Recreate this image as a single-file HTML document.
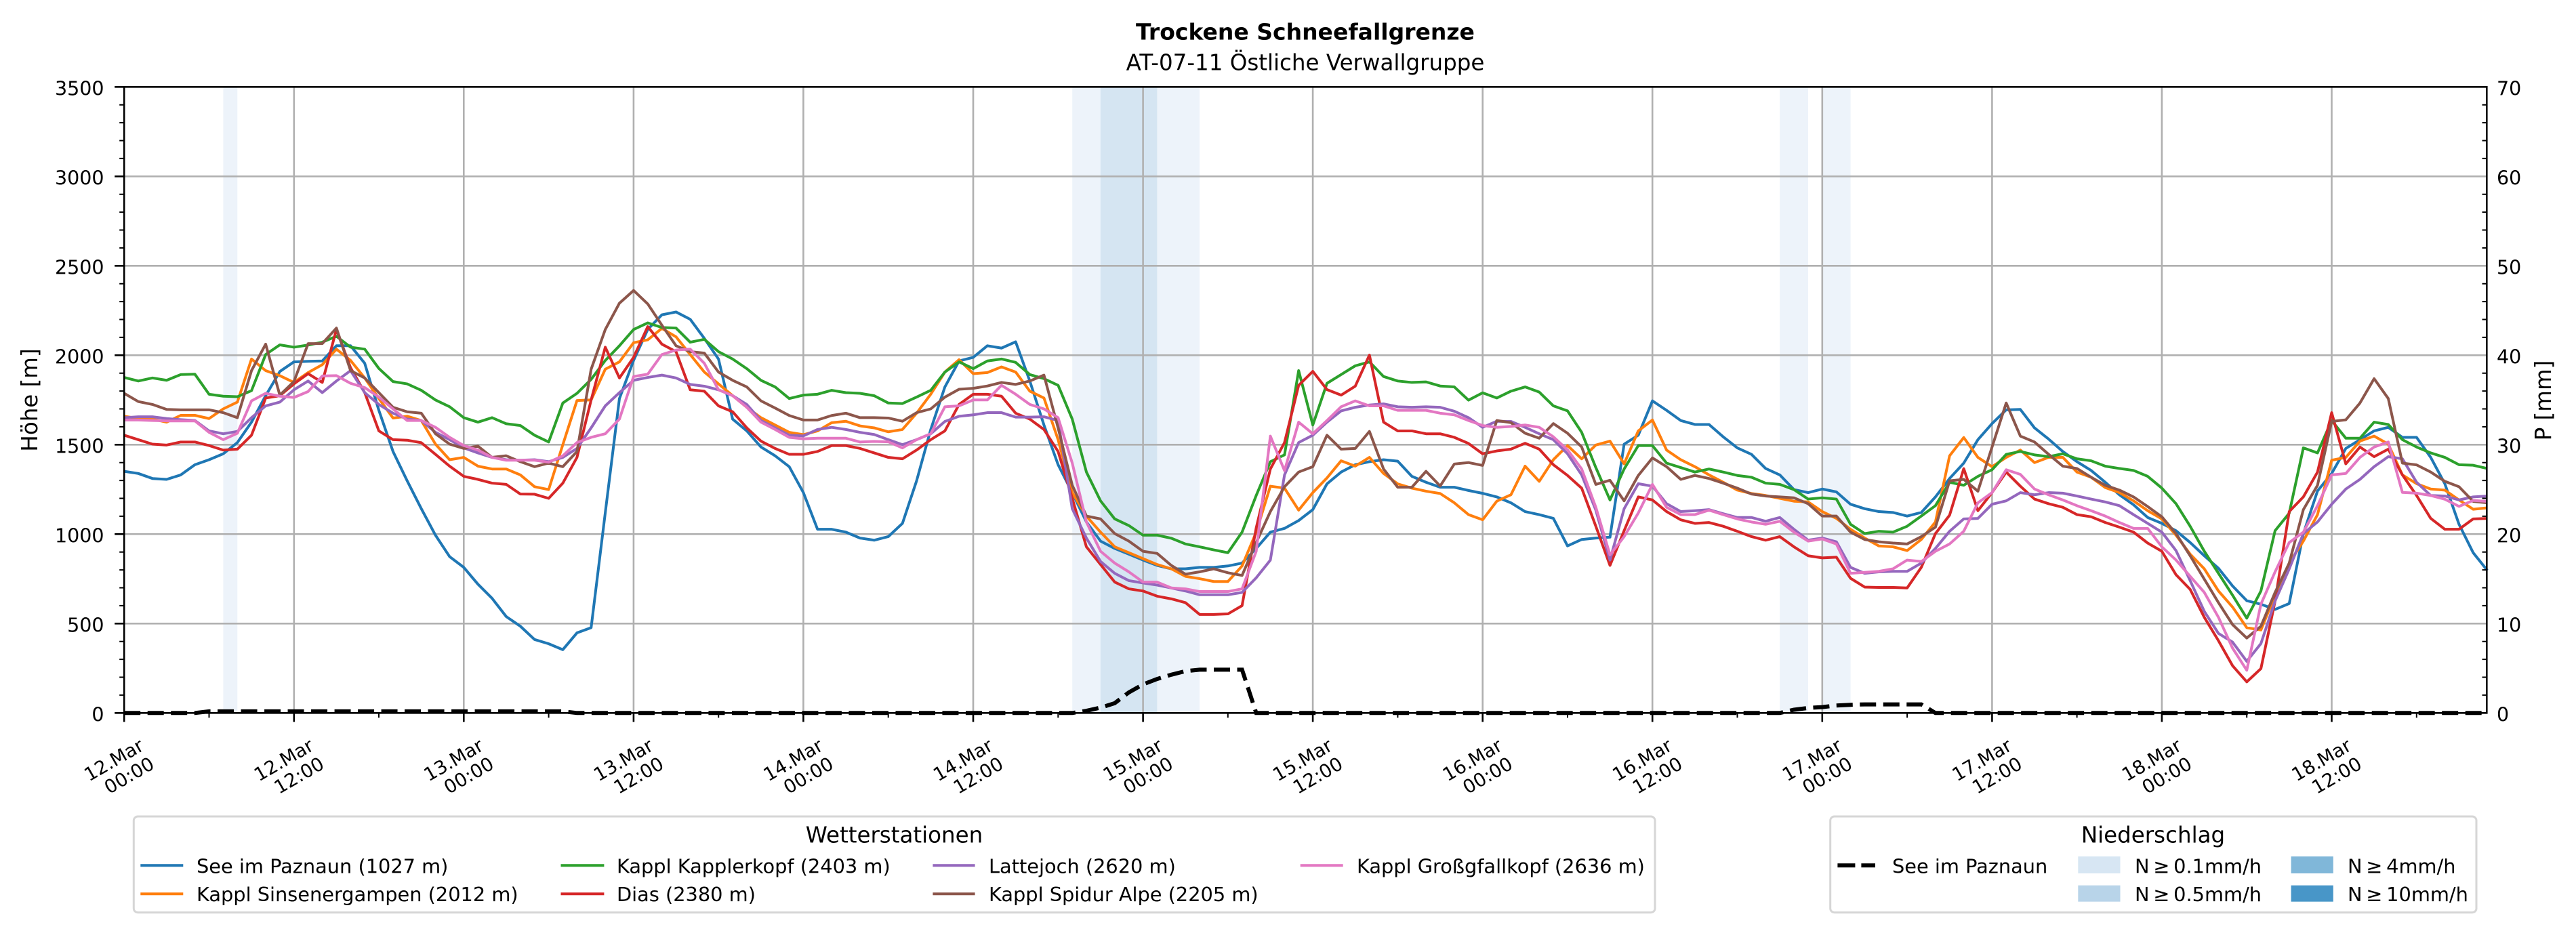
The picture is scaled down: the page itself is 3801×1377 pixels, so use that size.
<!DOCTYPE html>
<html><head><meta charset="utf-8"><style>
html,body{margin:0;padding:0;background:#fff;}
svg{display:block;}
text{font-family:"DejaVu Sans","Liberation Sans",sans-serif;fill:#000;}
</style></head><body>
<svg width="3801" height="1377" viewBox="0 0 3801 1377" xmlns="http://www.w3.org/2000/svg">
<rect x="0" y="0" width="3801" height="1377" fill="#fff"/>
<!-- precipitation bands -->
<rect x="329.4" y="128.3" width="20.9" height="924" fill="#edf3fa"/>
<rect x="1582.2" y="128.3" width="41.8" height="924" fill="#edf3fa"/>
<rect x="1623.9" y="128.3" width="83.6" height="924" fill="#d5e5f2"/>
<rect x="1707.4" y="128.3" width="62.7" height="924" fill="#edf3fa"/>
<rect x="2626.2" y="128.3" width="41.8" height="924" fill="#edf3fa"/>
<rect x="2688.8" y="128.3" width="41.8" height="924" fill="#edf3fa"/>
<!-- grid -->
<path d="M433.8 128.3V1052.3M684.3 128.3V1052.3M934.9 128.3V1052.3M1185.4 128.3V1052.3M1436.0 128.3V1052.3M1686.6 128.3V1052.3M1937.1 128.3V1052.3M2187.7 128.3V1052.3M2438.2 128.3V1052.3M2688.8 128.3V1052.3M2939.4 128.3V1052.3M3189.9 128.3V1052.3M3440.5 128.3V1052.3M183.2 920.3H3669.3M183.2 788.3H3669.3M183.2 656.3H3669.3M183.2 524.3H3669.3M183.2 392.3H3669.3M183.2 260.3H3669.3" stroke="#b0b0b0" stroke-width="2.6" fill="none"/>
<!-- series -->
<g transform="translate(183.2 1052.3) scale(20.88 -0.264)" fill="none" stroke-width="4" stroke-linejoin="round">
<polyline vector-effect="non-scaling-stroke" stroke="#1f77b4" points="0,1351 1,1339 2,1311 3,1306 4,1331 5,1388 6,1416 7,1449 8,1512 9,1626 10,1774 11,1909 12,1963 13,1966 14,1968 15,2053 16,2053 17,1955 18,1692 19,1462 20,1298 21,1142 22,994 23,874 24,814 25,720 26,641 27,539 28,485 29,411 30,387 31,354 32,448 33,477 34,1120 35,1758 36,1971 37,2144 38,2226 39,2242 40,2201 41,2094 42,1979 43,1643 44,1577 45,1487 46,1438 47,1377 48,1232 49,1027 50,1027 51,1011 52,978 53,966 54,986 55,1060 56,1298 57,1585 58,1823 59,1968 60,1988 61,2053 62,2040 63,2075 64,1856 65,1610 66,1388 67,1232 68,1068 69,961 70,920 71,888 72,855 73,825 74,806 75,806 76,814 77,814 78,822 79,838 80,920 81,1011 82,1032 83,1076 84,1137 85,1281 86,1347 87,1388 88,1405 89,1416 90,1408 91,1323 92,1290 93,1262 94,1262 95,1244 96,1228 97,1208 98,1175 99,1126 100,1109 101,1088 102,934 103,970 104,978 105,983 106,1503 107,1553 108,1745 109,1692 110,1635 111,1613 112,1613 113,1544 114,1482 115,1446 116,1367 117,1331 118,1249 119,1232 120,1252 121,1236 122,1167 123,1142 124,1126 125,1121 126,1101 127,1121 128,1208 129,1311 130,1397 131,1528 132,1618 133,1695 134,1697 135,1594 136,1531 137,1462 138,1405 139,1356 140,1290 141,1220 142,1164 143,1093 144,1060 145,1019 146,953 147,879 148,809 149,710 150,628 151,608 152,579 153,612 154,1003 155,1241 156,1339 157,1479 158,1528 159,1577 160,1597 161,1541 162,1541 163,1429 164,1281 165,1055 166,896 167,797"/>
<polyline vector-effect="non-scaling-stroke" stroke="#ff7f0e" points="0,1659 1,1646 2,1643 3,1626 4,1664 5,1664 6,1646 7,1700 8,1738 9,1979 10,1914 11,1886 12,1848 13,1903 14,1947 15,2034 16,1971 17,1873 18,1758 19,1649 20,1659 21,1635 22,1503 23,1416 24,1429 25,1380 26,1364 27,1364 28,1331 29,1265 30,1249 31,1500 32,1747 33,1750 34,1922 35,1963 36,2070 37,2086 38,2150 39,2103 40,2004 41,1906 42,1840 43,1774 44,1709 45,1651 46,1610 47,1569 48,1556 49,1577 50,1623 51,1631 52,1605 53,1594 54,1572 55,1585 56,1676 57,1782 58,1906 59,1975 60,1897 61,1903 62,1935 63,1906 64,1799 65,1761 66,1528 67,1232 68,1101 69,1011 70,929 71,896 72,863 73,830 74,806 75,764 76,751 77,735 78,735 79,822 80,1011 81,1268 82,1257 83,1134 84,1232 85,1314 86,1410 87,1380 88,1429 89,1339 90,1281 91,1257 92,1240 93,1227 94,1175 95,1109 96,1080 97,1184 98,1220 99,1380 100,1295 101,1416 102,1495 103,1421 104,1498 105,1520 106,1393 107,1577 108,1638 109,1470 110,1416 111,1377 112,1331 113,1290 114,1246 115,1227 116,1216 117,1200 118,1184 119,1180 120,1126 121,1088 122,1027 123,978 124,934 125,929 126,908 127,970 128,1068 129,1438 130,1540 131,1429 132,1377 133,1429 134,1470 135,1400 136,1429 137,1429 138,1347 139,1318 140,1260 141,1232 142,1186 143,1131 144,1085 145,994 146,888 147,806 148,682 149,592 150,477 151,464 152,658 153,838 154,961 155,1109 156,1413 157,1429 158,1520 159,1548 160,1503 161,1331 162,1282 163,1252 164,1246 165,1191 166,1139 167,1147"/>
<polyline vector-effect="non-scaling-stroke" stroke="#2ca02c" points="0,1876 1,1856 2,1873 3,1860 4,1892 5,1894 6,1782 7,1771 8,1768 9,1802 10,2004 11,2058 12,2045 13,2057 14,2073 15,2106 16,2045 17,2034 18,1926 19,1853 20,1840 21,1804 22,1750 23,1712 24,1651 25,1626 26,1651 27,1617 28,1607 29,1553 30,1515 31,1733 32,1787 33,1865 34,1971 35,2053 36,2144 37,2181 38,2155 39,2152 40,2073 41,2089 42,2020 43,1979 44,1925 45,1860 46,1823 47,1758 48,1777 49,1782 50,1804 51,1791 52,1787 53,1774 54,1733 55,1730 56,1766 57,1804 58,1906 59,1963 60,1925 61,1968 62,1979 63,1960 64,1892 65,1869 66,1832 67,1643 68,1347 69,1186 70,1085 71,1048 72,994 73,994 74,977 75,945 76,929 77,912 78,896 79,1011 80,1216 81,1405 82,1443 83,1914 84,1610 85,1843 86,1892 87,1941 88,1963 89,1881 90,1856 91,1848 92,1851 93,1828 94,1823 95,1749 96,1790 97,1761 98,1799 99,1823 100,1794 101,1717 102,1689 103,1569 104,1372 105,1191 106,1364 107,1495 108,1495 109,1397 110,1372 111,1347 112,1364 113,1347 114,1328 115,1318 116,1285 117,1278 118,1249 119,1196 120,1203 121,1196 122,1055 123,1003 124,1016 125,1011 126,1044 127,1101 128,1159 129,1290 130,1273 131,1323 132,1360 133,1446 134,1462 135,1443 136,1433 137,1449 138,1421 139,1410 140,1380 141,1367 142,1356 143,1323 144,1257 145,1170 146,1044 147,904 148,781 149,658 150,530 151,682 152,1019 153,1117 154,1482 155,1454 156,1635 157,1536 158,1536 159,1626 160,1613 161,1528 162,1487 163,1454 164,1429 165,1388 166,1385 167,1367"/>
<polyline vector-effect="non-scaling-stroke" stroke="#d62728" points="0,1553 1,1528 2,1503 3,1498 4,1515 5,1515 6,1495 7,1470 8,1475 9,1553 10,1761 11,1774 12,1840 13,1897 14,1848 15,2144 16,1930 17,1791 18,1577 19,1528 20,1525 21,1511 22,1446 23,1380 24,1323 25,1306 26,1285 27,1278 28,1224 29,1223 30,1200 31,1285 32,1429 33,1750 34,2045 35,1873 36,1988 37,2160 38,2062 39,2020 40,1807 41,1799 42,1717 43,1684 44,1594 45,1520 46,1479 47,1446 48,1446 49,1462 50,1495 51,1495 52,1479 53,1454 54,1429 55,1421 56,1470 57,1528 58,1577 59,1725 60,1782 61,1782 62,1771 63,1676 64,1643 65,1585 66,1462 67,1200 68,929 69,830 70,732 71,694 72,682 73,653 74,638 75,617 76,551 77,551 78,554 79,600 80,1035 81,1364 82,1512 83,1832 84,1910 85,1808 86,1777 87,1827 88,2001 89,1626 90,1577 91,1577 92,1561 93,1561 94,1541 95,1507 96,1449 97,1465 98,1475 99,1508 100,1475 101,1388 102,1328 103,1257 104,1044 105,825 106,1019 107,1208 108,1191 109,1126 110,1080 111,1060 112,1065 113,1044 114,1016 115,986 116,966 117,986 118,929 119,879 120,867 121,871 122,753 123,704 124,702 125,702 126,699 127,814 128,1003 129,1106 130,1366 131,1131 132,1232 133,1347 134,1268 135,1196 136,1170 137,1150 138,1109 139,1097 140,1065 141,1039 142,1011 143,950 144,904 145,773 146,691 147,535 148,404 149,264 150,174 151,248 152,625 153,1126 154,1208 155,1347 156,1679 157,1393 158,1487 159,1433 160,1475 161,1331 162,1216 163,1088 164,1027 165,1027 166,1085 167,1088"/>
<polyline vector-effect="non-scaling-stroke" stroke="#9467bd" points="0,1651 1,1656 2,1656 3,1646 4,1640 5,1635 6,1577 7,1561 8,1574 9,1651 10,1717 11,1738 12,1807 13,1856 14,1791 15,1856 16,1914 17,1791 18,1725 19,1676 20,1643 21,1635 22,1569 23,1528 24,1482 25,1454 26,1429 27,1416 28,1413 29,1416 30,1405 31,1429 32,1479 33,1594 34,1717 35,1791 36,1860 37,1876 38,1889 39,1873 40,1837 41,1827 42,1807 43,1774 44,1725 45,1635 46,1594 47,1553 48,1549 49,1585 50,1597 51,1585 52,1569 53,1557 54,1528 55,1500 56,1528 57,1561 58,1630 59,1659 60,1667 61,1679 62,1679 63,1654 64,1654 65,1656 66,1635 67,1142 68,978 69,847 70,781 71,740 72,727 73,715 74,699 75,682 76,661 77,661 78,661 79,674 80,756 81,855 82,1331 83,1512 84,1553 85,1626 86,1689 87,1709 88,1722 89,1728 90,1712 91,1709 92,1712 93,1709 94,1687 95,1651 96,1597 97,1631 98,1630 99,1597 100,1561 101,1528 102,1449 103,1331 104,1134 105,855 106,1142 107,1282 108,1268 109,1170 110,1126 111,1131 112,1137 113,1114 114,1093 115,1093 116,1072 117,1093 118,1027 119,966 120,978 121,957 122,814 123,781 124,789 125,792 126,792 127,838 128,920 129,1016 130,1085 131,1088 132,1167 133,1186 134,1232 135,1220 136,1232 137,1229 138,1213 139,1196 140,1180 141,1159 142,1109 143,1060 144,1011 145,908 146,740 147,568 148,445 149,396 150,289 151,388 152,626 153,806 154,1003 155,1068 156,1167 157,1252 158,1306 159,1377 160,1433 161,1421 162,1290 163,1216 164,1213 165,1191 166,1208 167,1213"/>
<polyline vector-effect="non-scaling-stroke" stroke="#8c564b" points="0,1787 1,1741 2,1725 3,1697 4,1695 5,1695 6,1695 7,1679 8,1651 9,1914 10,2062 11,1777 12,1853 13,2065 14,2065 15,2152 16,1914 17,1873 18,1791 19,1709 20,1684 21,1676 22,1561 23,1503 24,1479 25,1492 26,1429 27,1438 28,1405 29,1377 30,1397 31,1377 32,1462 33,1922 34,2144 35,2291 36,2362 37,2287 38,2168 39,2053 40,2020 41,2012 42,1906 43,1860 44,1823 45,1745 46,1705 47,1663 48,1638 49,1638 50,1663 51,1676 52,1651 53,1651 54,1649 55,1631 56,1679 57,1700 58,1766 59,1810 60,1815 61,1828 62,1848 63,1837 64,1856 65,1889 66,1594 67,1273 68,1101 69,1085 70,1003 71,961 72,904 73,892 74,825 75,776 76,789 77,806 78,784 79,769 80,953 81,1126 82,1265 83,1347 84,1377 85,1553 86,1475 87,1479 88,1574 89,1364 90,1262 91,1262 92,1351 93,1269 94,1392 95,1400 96,1384 97,1635 98,1623 99,1564 100,1536 101,1618 102,1564 103,1487 104,1278 105,1301 106,1186 107,1328 108,1426 109,1377 110,1306 111,1328 112,1311 113,1285 114,1257 115,1224 116,1213 117,1208 118,1203 119,1170 120,1101 121,1101 122,1011 123,970 124,957 125,950 126,945 127,986 128,1039 129,1298 130,1306 131,1240 132,1487 133,1733 134,1548 135,1515 136,1446 137,1380 138,1367 139,1318 140,1273 141,1246 142,1208 143,1154 144,1097 145,1003 146,879 147,748 148,617 149,494 150,419 151,485 152,674 153,838 154,1137 155,1273 156,1630 157,1639 158,1733 159,1869 160,1758 161,1397 162,1387 163,1347 164,1295 165,1265 166,1183 167,1175"/>
<polyline vector-effect="non-scaling-stroke" stroke="#e377c2" points="0,1638 1,1638 2,1635 3,1633 4,1633 5,1633 6,1569 7,1528 8,1564 9,1745 10,1787 11,1771 12,1764 13,1797 14,1884 15,1886 16,1843 17,1819 18,1766 19,1700 20,1635 21,1635 22,1597 23,1541 24,1495 25,1470 26,1429 27,1413 28,1413 29,1413 30,1402 31,1438 32,1512 33,1541 34,1561 35,1643 36,1881 37,1894 38,2004 39,2029 40,2034 41,1955 42,1807 43,1774 44,1709 45,1626 46,1585 47,1541 48,1533 49,1536 50,1536 51,1536 52,1515 53,1518 54,1516 55,1482 56,1528 57,1561 58,1712 59,1717 60,1750 61,1750 62,1832 63,1782 64,1725 65,1700 66,1651 67,1397 68,1068 69,904 70,838 71,789 72,732 73,732 74,699 75,694 76,679 77,679 78,679 79,694 80,904 81,1548 82,1355 83,1626 84,1561 85,1635 86,1712 87,1745 88,1717 89,1717 90,1692 91,1692 92,1692 93,1676 94,1667 95,1635 96,1607 97,1597 98,1602 99,1610 100,1597 101,1544 102,1471 103,1364 104,1150 105,884 106,986 107,1118 108,1278 109,1150 110,1109 111,1109 112,1134 113,1109 114,1085 115,1068 116,1055 117,1072 118,1011 119,961 120,973 121,945 122,781 123,786 124,792 125,806 126,855 127,847 128,904 129,945 130,1016 131,1175 132,1232 133,1360 134,1334 135,1252 136,1220 137,1191 138,1159 139,1131 140,1101 141,1065 142,1032 143,1032 144,929 145,855 146,764 147,674 148,535 149,362 150,239 151,608 152,789 153,953 154,1011 155,1159 156,1331 157,1339 158,1429 159,1487 160,1515 161,1233 162,1229 163,1216 164,1195 165,1155 166,1188 167,1183"/>
</g>
<!-- precipitation dashed line -->
<polyline fill="none" stroke="#000" stroke-width="6" stroke-dasharray="24 10.5" points="183.2,1052.3 287.6,1052.3 308.5,1049.9 830.5,1049.9 851.4,1052.3 1582.2,1052.3 1603.0,1049.1 1623.9,1044.4 1644.8,1037.8 1665.7,1021.9 1686.6,1010.1 1707.4,1002.1 1728.3,995.8 1749.2,990.5 1770.1,988.4 1832.7,988.4 1853.6,1052.3 2626.2,1052.3 2647.0,1047.5 2667.9,1044.9 2688.8,1043.6 2709.7,1041.2 2730.6,1040.2 2751.4,1039.6 2835.0,1039.6 2855.8,1052.3 3670.2,1052.3"/>
<!-- ticks -->
<path d="M169.2 1052.3H183.2M169.2 920.3H183.2M169.2 788.3H183.2M169.2 656.3H183.2M169.2 524.3H183.2M169.2 392.3H183.2M169.2 260.3H183.2M169.2 128.3H183.2" stroke="#000" stroke-width="2.6"/>
<path d="M176.2 1025.9H183.2M176.2 999.5H183.2M176.2 973.1H183.2M176.2 946.7H183.2M176.2 893.9H183.2M176.2 867.5H183.2M176.2 841.1H183.2M176.2 814.7H183.2M176.2 761.9H183.2M176.2 735.5H183.2M176.2 709.1H183.2M176.2 682.7H183.2M176.2 629.9H183.2M176.2 603.5H183.2M176.2 577.1H183.2M176.2 550.7H183.2M176.2 497.9H183.2M176.2 471.5H183.2M176.2 445.1H183.2M176.2 418.7H183.2M176.2 365.9H183.2M176.2 339.5H183.2M176.2 313.1H183.2M176.2 286.7H183.2M176.2 233.9H183.2M176.2 207.5H183.2M176.2 181.1H183.2M176.2 154.7H183.2" stroke="#000" stroke-width="2"/>
<path d="M3662.5 1025.9H3669.3M3662.5 999.5H3669.3M3662.5 973.1H3669.3M3662.5 946.7H3669.3M3662.5 893.9H3669.3M3662.5 867.5H3669.3M3662.5 841.1H3669.3M3662.5 814.7H3669.3M3662.5 761.9H3669.3M3662.5 735.5H3669.3M3662.5 709.1H3669.3M3662.5 682.7H3669.3M3662.5 629.9H3669.3M3662.5 603.5H3669.3M3662.5 577.1H3669.3M3662.5 550.7H3669.3M3662.5 497.9H3669.3M3662.5 471.5H3669.3M3662.5 445.1H3669.3M3662.5 418.7H3669.3M3662.5 365.9H3669.3M3662.5 339.5H3669.3M3662.5 313.1H3669.3M3662.5 286.7H3669.3M3662.5 233.9H3669.3M3662.5 207.5H3669.3M3662.5 181.1H3669.3M3662.5 154.7H3669.3" stroke="#000" stroke-width="2"/>
<path d="M183.2 1052.3V1065.5M433.8 1052.3V1065.5M684.3 1052.3V1065.5M934.9 1052.3V1065.5M1185.4 1052.3V1065.5M1436.0 1052.3V1065.5M1686.6 1052.3V1065.5M1937.1 1052.3V1065.5M2187.7 1052.3V1065.5M2438.2 1052.3V1065.5M2688.8 1052.3V1065.5M2939.4 1052.3V1065.5M3189.9 1052.3V1065.5M3440.5 1052.3V1065.5" stroke="#000" stroke-width="2.6"/>
<path d="M308.5 1052.3V1059.3M559.0 1052.3V1059.3M809.6 1052.3V1059.3M1060.2 1052.3V1059.3M1310.7 1052.3V1059.3M1561.3 1052.3V1059.3M1811.8 1052.3V1059.3M2062.4 1052.3V1059.3M2313.0 1052.3V1059.3M2563.5 1052.3V1059.3M2814.1 1052.3V1059.3M3064.6 1052.3V1059.3M3315.2 1052.3V1059.3M3565.8 1052.3V1059.3" stroke="#000" stroke-width="2"/>
<!-- spines -->
<rect x="183.2" y="128.3" width="3486.1" height="924" fill="none" stroke="#000" stroke-width="2.6"/>
<!-- y tick labels left -->
<g font-size="28.5" text-anchor="end">
<text x="153.5" y="1064.3">0</text>
<text x="153.5" y="932.3">500</text>
<text x="153.5" y="800.3">1000</text>
<text x="153.5" y="668.3">1500</text>
<text x="153.5" y="536.3">2000</text>
<text x="153.5" y="404.3">2500</text>
<text x="153.5" y="272.3">3000</text>
<text x="153.5" y="140.3">3500</text>
</g>
<!-- y tick labels right -->
<g font-size="28.5" text-anchor="start">
<text x="3684" y="1064.3">0</text>
<text x="3684" y="932.3">10</text>
<text x="3684" y="800.3">20</text>
<text x="3684" y="668.3">30</text>
<text x="3684" y="536.3">40</text>
<text x="3684" y="404.3">50</text>
<text x="3684" y="272.3">60</text>
<text x="3684" y="140.3">70</text>
</g>
<!-- x tick labels -->
<g font-size="27.5" text-anchor="end">
<text transform="translate(214.2 1106) rotate(-30)"><tspan x="0" y="0">12.Mar</tspan><tspan x="0" y="31">00:00</tspan></text>
<text transform="translate(464.8 1106) rotate(-30)"><tspan x="0" y="0">12.Mar</tspan><tspan x="0" y="31">12:00</tspan></text>
<text transform="translate(715.3 1106) rotate(-30)"><tspan x="0" y="0">13.Mar</tspan><tspan x="0" y="31">00:00</tspan></text>
<text transform="translate(965.9 1106) rotate(-30)"><tspan x="0" y="0">13.Mar</tspan><tspan x="0" y="31">12:00</tspan></text>
<text transform="translate(1216.4 1106) rotate(-30)"><tspan x="0" y="0">14.Mar</tspan><tspan x="0" y="31">00:00</tspan></text>
<text transform="translate(1467.0 1106) rotate(-30)"><tspan x="0" y="0">14.Mar</tspan><tspan x="0" y="31">12:00</tspan></text>
<text transform="translate(1717.6 1106) rotate(-30)"><tspan x="0" y="0">15.Mar</tspan><tspan x="0" y="31">00:00</tspan></text>
<text transform="translate(1968.1 1106) rotate(-30)"><tspan x="0" y="0">15.Mar</tspan><tspan x="0" y="31">12:00</tspan></text>
<text transform="translate(2218.7 1106) rotate(-30)"><tspan x="0" y="0">16.Mar</tspan><tspan x="0" y="31">00:00</tspan></text>
<text transform="translate(2469.2 1106) rotate(-30)"><tspan x="0" y="0">16.Mar</tspan><tspan x="0" y="31">12:00</tspan></text>
<text transform="translate(2719.8 1106) rotate(-30)"><tspan x="0" y="0">17.Mar</tspan><tspan x="0" y="31">00:00</tspan></text>
<text transform="translate(2970.4 1106) rotate(-30)"><tspan x="0" y="0">17.Mar</tspan><tspan x="0" y="31">12:00</tspan></text>
<text transform="translate(3220.9 1106) rotate(-30)"><tspan x="0" y="0">18.Mar</tspan><tspan x="0" y="31">00:00</tspan></text>
<text transform="translate(3471.5 1106) rotate(-30)"><tspan x="0" y="0">18.Mar</tspan><tspan x="0" y="31">12:00</tspan></text>
</g>
<!-- axis labels -->
<text transform="translate(55 590.5) rotate(-90)" font-size="32.5" text-anchor="middle">Höhe [m]</text>
<text transform="translate(3764 591) rotate(-90)" font-size="32.5" text-anchor="middle">P [mm]</text>
<!-- titles -->
<text x="1926" y="58.3" font-size="33" font-weight="bold" text-anchor="middle">Trockene Schneefallgrenze</text>
<text x="1926" y="103.3" font-size="32.5" text-anchor="middle">AT-07-11 Östliche Verwallgruppe</text>
<!-- legend 1 -->
<rect x="197.3" y="1205" width="2244.7" height="141.7" rx="6" fill="#fff" stroke="#d6d6d6" stroke-width="3"/>
<text x="1319.5" y="1243.3" font-size="32.5" text-anchor="middle">Wetterstationen</text>
<g stroke-width="4">
<line x1="207.3" y1="1277.3" x2="270.3" y2="1277.3" stroke="#1f77b4"/>
<line x1="207.3" y1="1319.3" x2="270.3" y2="1319.3" stroke="#ff7f0e"/>
<line x1="827.5" y1="1277.3" x2="891.4" y2="1277.3" stroke="#2ca02c"/>
<line x1="827.5" y1="1319.3" x2="891.4" y2="1319.3" stroke="#d62728"/>
<line x1="1376.4" y1="1277.3" x2="1438.6" y2="1277.3" stroke="#9467bd"/>
<line x1="1376.4" y1="1319.3" x2="1438.6" y2="1319.3" stroke="#8c564b"/>
<line x1="1918.7" y1="1277.3" x2="1981.7" y2="1277.3" stroke="#e377c2"/>
</g>
<g font-size="28.8">
<text x="290" y="1288.3">See im Paznaun (1027 m)</text>
<text x="290" y="1330">Kappl Sinsenergampen (2012 m)</text>
<text x="910" y="1288.3">Kappl Kapplerkopf (2403 m)</text>
<text x="910" y="1330">Dias (2380 m)</text>
<text x="1459" y="1288.3">Lattejoch (2620 m)</text>
<text x="1459" y="1330">Kappl Spidur Alpe (2205 m)</text>
<text x="2002" y="1288.3">Kappl Großgfallkopf (2636 m)</text>
</g>
<!-- legend 2 -->
<rect x="2700.7" y="1205" width="953.3" height="141.7" rx="6" fill="#fff" stroke="#d6d6d6" stroke-width="3"/>
<text x="3177" y="1243.3" font-size="32.5" text-anchor="middle">Niederschlag</text>
<line x1="2711.4" y1="1277.3" x2="2767" y2="1277.3" stroke="#000" stroke-width="6" stroke-dasharray="26 9"/>
<rect x="3066.3" y="1264" width="62.2" height="25" fill="#d7e6f3"/>
<rect x="3066.3" y="1306.7" width="62.2" height="24" fill="#b8d4e9"/>
<rect x="3380.6" y="1264" width="62.2" height="25" fill="#80b7d9"/>
<rect x="3380.6" y="1306.7" width="62.2" height="24" fill="#4896c8"/>
<g font-size="28.8">
<text x="2792" y="1288.3">See im Paznaun</text>
<text x="3150" y="1288.3">N&#8201;≥&#8201;0.1mm/h</text>
<text x="3150" y="1330">N&#8201;≥&#8201;0.5mm/h</text>
<text x="3464" y="1288.3">N&#8201;≥&#8201;4mm/h</text>
<text x="3464" y="1330">N&#8201;≥&#8201;10mm/h</text>
</g>
</svg>
</body></html>
